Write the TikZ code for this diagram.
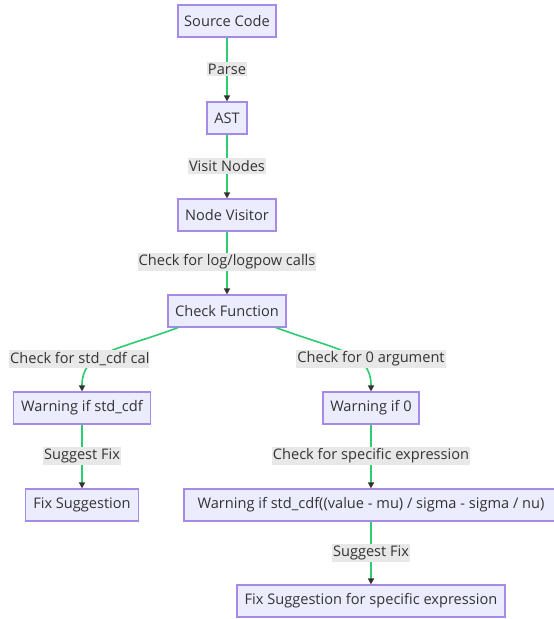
\documentclass[tikz,border=0pt]{standalone}
\usepackage{fontspec}
\setmainfont{Open Sans}
\usetikzlibrary{arrows.meta}
\definecolor{boxfill}{HTML}{ECECFF}
\definecolor{boxdraw}{HTML}{A58BE6}
\definecolor{edgecol}{HTML}{2ECC71}
\definecolor{lblfill}{HTML}{E8E8E8}
\definecolor{txt}{HTML}{333333}
\tikzset{
  box/.style={draw=boxdraw, fill=boxfill, line width=1.2pt, minimum height=32pt, inner sep=0pt, text=txt, font=\fontsize{14.6}{17}\selectfont},
  lbl/.style={fill=lblfill, inner xsep=1pt, inner ysep=2pt, text=txt, font=\fontsize{14.6}{17}\selectfont},
  edge/.style={draw=edgecol, line width=1.6pt, -{Triangle[length=6pt,width=6pt,color=txt]}},
}
\begin{document}
\begin{tikzpicture}[x=1pt,y=-1pt]
\useasboundingbox (0,0) rectangle (554,619);
\clip (0,0) rectangle (554,619);
\fill[white] (0,0) rectangle (554,619);
% nodes
\node[box, minimum width=98pt] (src) at (227,21) {Source Code};
\node[box, minimum width=40pt] (ast) at (227,118) {AST};
\node[box, minimum width=98pt] (nv) at (227,215) {Node Visitor};
\node[box, minimum width=118pt] (cf) at (227,311) {Check Function};
\node[box, minimum width=137pt] (w1) at (82,408) {Warning if std\_cdf};
\node[box, minimum width=96pt] (w0) at (371,408) {Warning if 0};
\node[box, minimum width=113pt] (f1) at (82,505) {Fix Suggestion};
\node[box, minimum width=374pt] (w2) at (371,505) {Warning if std\_cdf((value - mu) / sigma - sigma / nu)};
\node[box, minimum width=268pt] (f2) at (371,601) {Fix Suggestion for specific expression};
% edges
\draw[edge] (src) -- (ast);
\draw[edge] (ast) -- (nv);
\draw[edge] (nv) -- (cf);
\draw[edge] ([xshift=-49pt]cf.south) .. controls (118,350) and (82,352) .. (82,385) -- (w1.north);
\draw[edge] ([xshift=49pt]cf.south) .. controls (336,350) and (371,352) .. (371,385) -- (w0.north);
\draw[edge] (w1) -- (f1);
\draw[edge] (w0) -- (w2);
\draw[edge] (w2) -- (f2);
% labels
\node[lbl] (l1) at (227,69) {Parse};
\node[lbl] (l2) at (227,166) {Visit Nodes};
\node[lbl] (l3) at (227,262) {Check for log/logpow calls};
\begin{scope}
\clip (0,340) rectangle (149,380);
\node[lbl, anchor=west] (l4) at (9,359) {Check for std\_cdf call};
\end{scope}
\node[lbl] (l5) at (371,359) {Check for 0 argument};
\node[lbl] (l6) at (82,456) {Suggest Fix};
\node[lbl] (l7) at (371,456) {Check for specific expression};
\node[lbl] (l8) at (371,553) {Suggest Fix};
\end{tikzpicture}
\end{document}
